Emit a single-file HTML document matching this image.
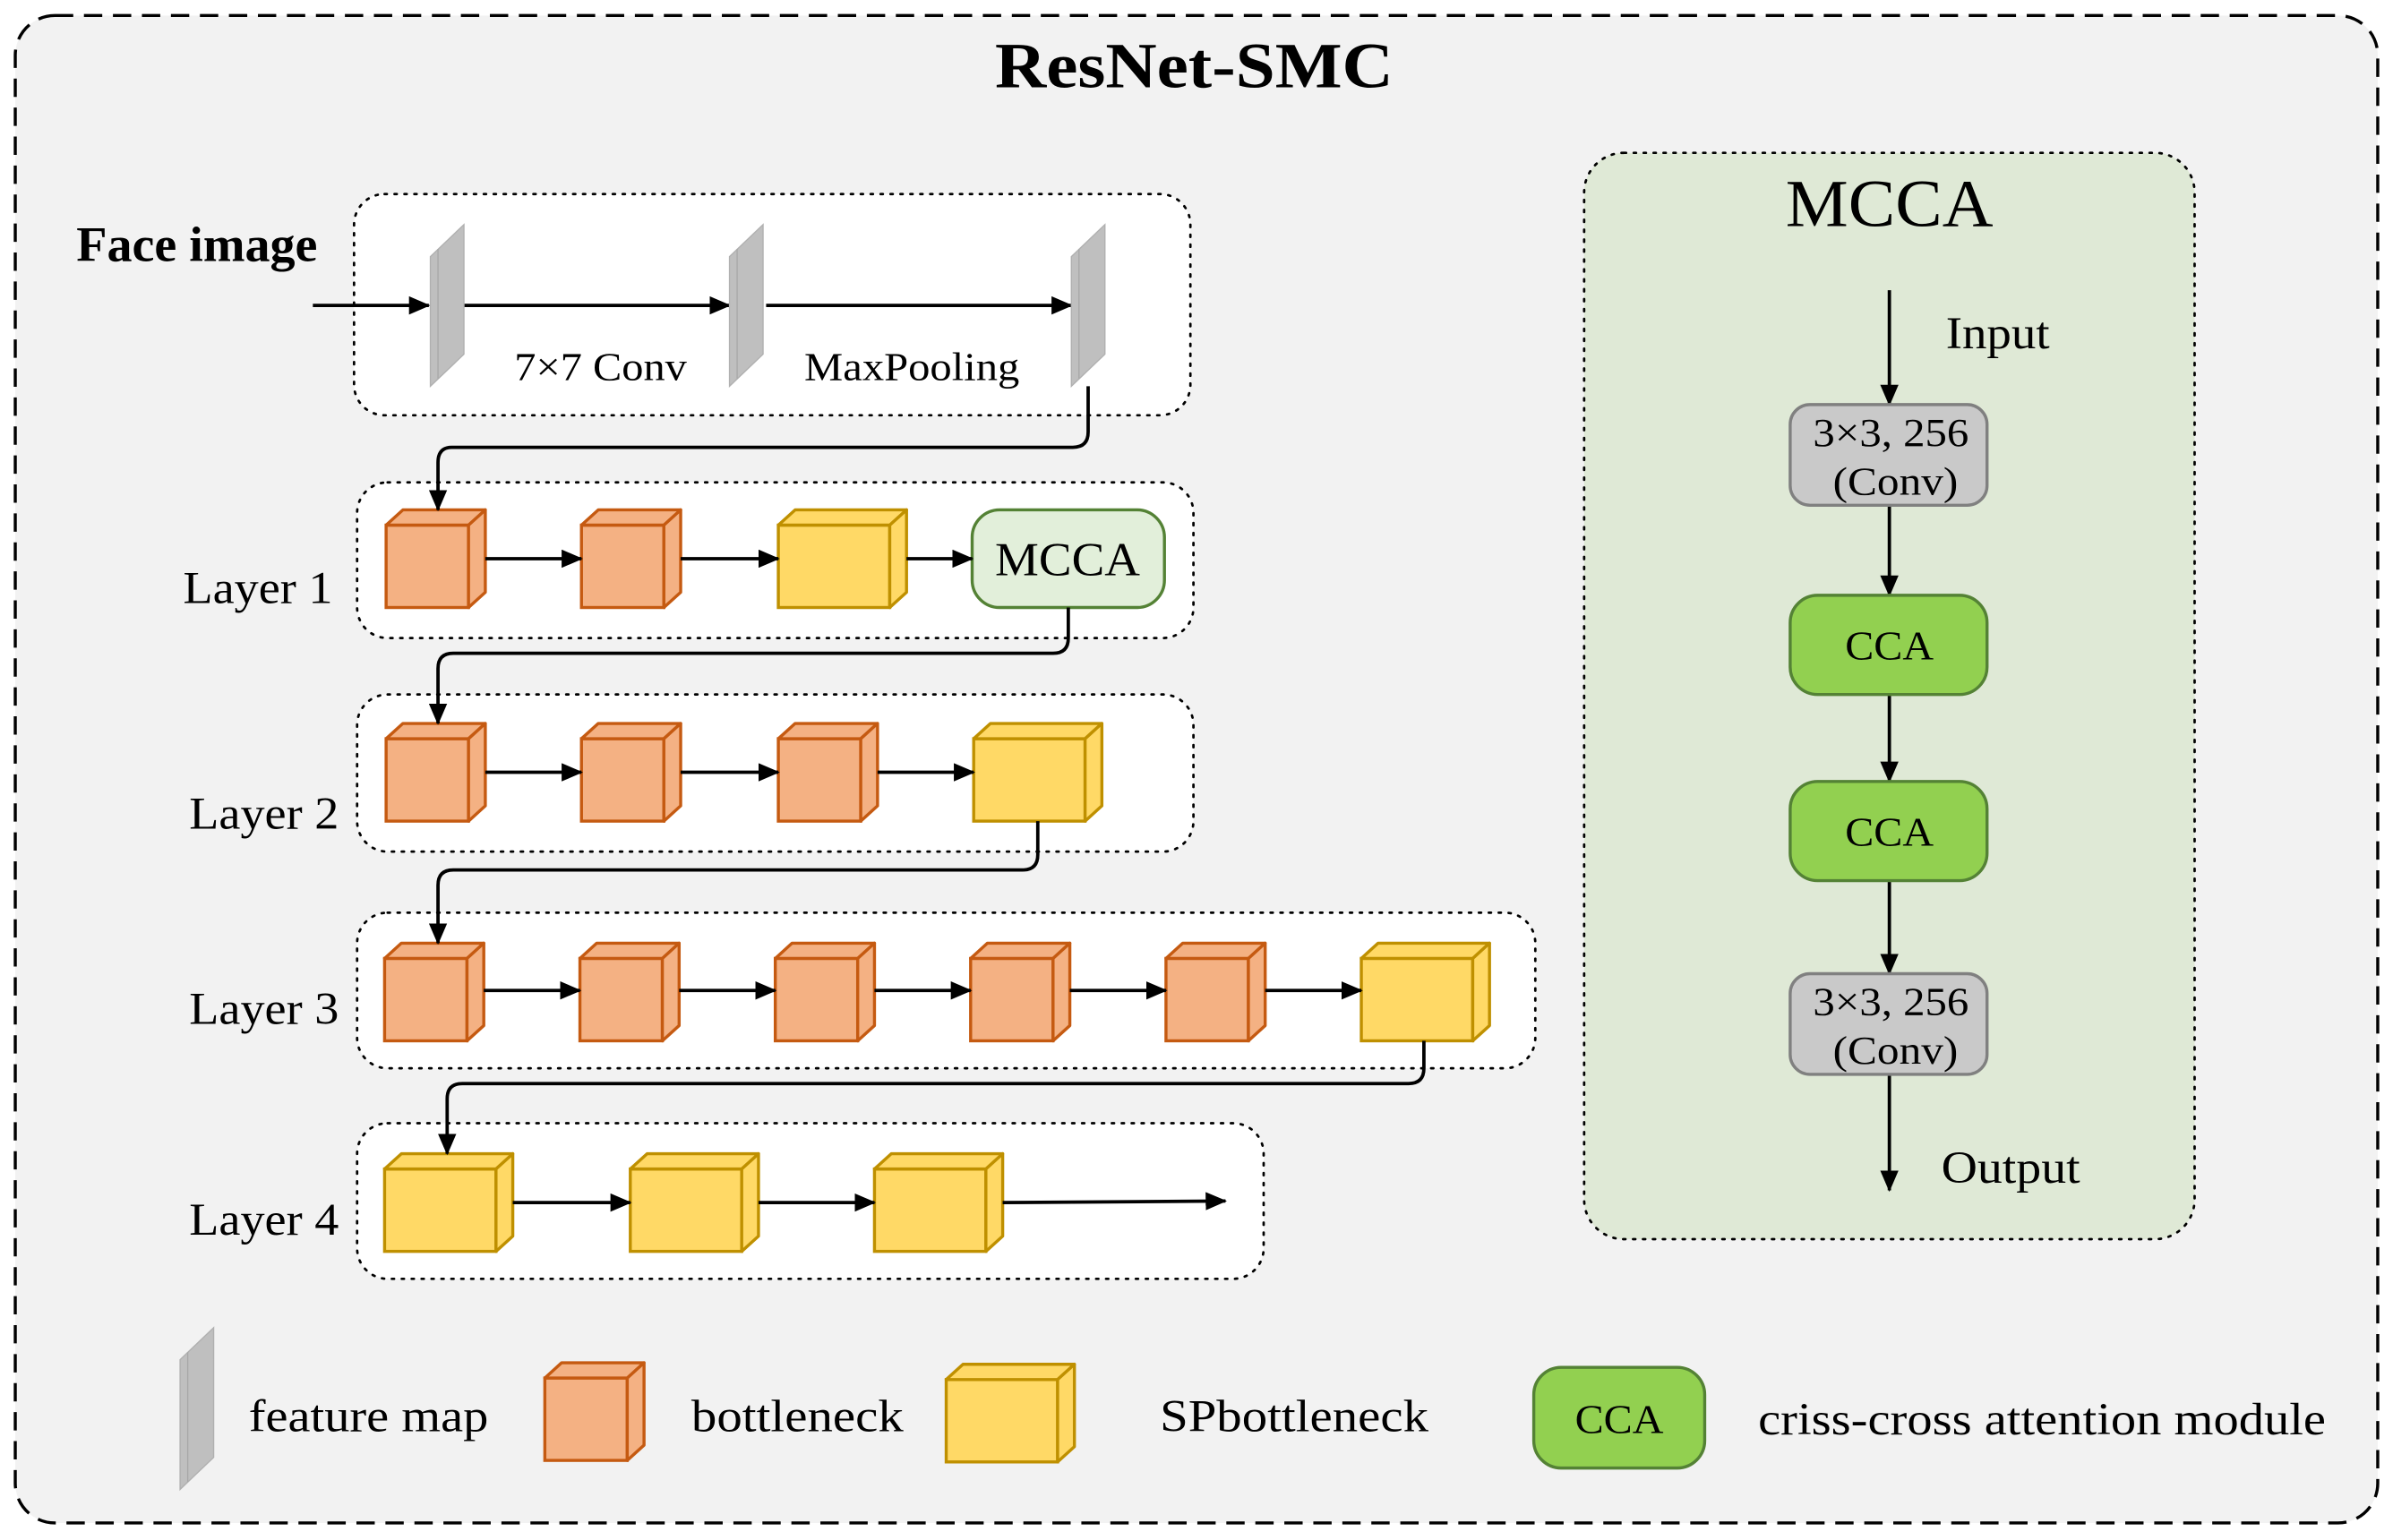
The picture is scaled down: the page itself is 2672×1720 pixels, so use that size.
<!DOCTYPE html>
<html><head><meta charset="utf-8"><style>html,body{margin:0;padding:0;background:#fff}svg{display:block}</style></head>
<body>
<svg xmlns="http://www.w3.org/2000/svg" width="2672" height="1720" viewBox="0 0 1568 1009" font-family="'Liberation Serif', serif">
<defs>
<marker id="ah" markerUnits="userSpaceOnUse" markerWidth="14" markerHeight="12" refX="13" refY="6" orient="auto">
<path d="M0,0 L14,6 L0,12 z" fill="#000"/>
</marker>
<g id="oc">
<rect x="0" y="10" width="54" height="54" fill="#f4b183" stroke="#c55a11" stroke-width="2"/>
<polygon points="0,10 11,0 65,0 54,10" fill="#f4b183" stroke="#c55a11" stroke-width="2" stroke-linejoin="round"/>
<polygon points="54,10 65,0 65,54 54,64" fill="#f4b183" stroke="#c55a11" stroke-width="2" stroke-linejoin="round"/>
</g>
<g id="yc">
<rect x="0" y="10" width="73" height="54" fill="#ffd966" stroke="#bf9000" stroke-width="2"/>
<polygon points="0,10 11,0 84,0 73,10" fill="#ffd966" stroke="#bf9000" stroke-width="2" stroke-linejoin="round"/>
<polygon points="73,10 84,0 84,54 73,64" fill="#ffd966" stroke="#bf9000" stroke-width="2" stroke-linejoin="round"/>
</g>
<g id="fm">
<polygon points="0,21 22,0 22,85 0,106" fill="#bfbfbf" stroke="#b0b0b0" stroke-width="0.8"/>
<line x1="5" y1="16" x2="5" y2="101" stroke="#a8a8a8" stroke-width="0.8"/>
</g>
</defs>

<rect x="0" y="0" width="1568" height="1009" fill="#fff"/>
<rect x="10" y="10" width="1548" height="988" rx="26" fill="#f2f2f2" stroke="#000" stroke-width="2" stroke-dasharray="12,7"/>
<text x="652" y="57" font-size="42" font-weight="bold" textLength="261" lengthAdjust="spacingAndGlyphs">ResNet-SMC</text>

<!-- boxes -->
<rect x="232" y="127" width="548" height="145" rx="20" fill="#fff" stroke="#000" stroke-width="1.6" stroke-dasharray="1.5,5" stroke-linecap="round"/>
<rect x="234" y="316" width="548" height="102" rx="20" fill="#fff" stroke="#000" stroke-width="1.6" stroke-dasharray="1.5,5" stroke-linecap="round"/>
<rect x="234" y="455" width="548" height="103" rx="20" fill="#fff" stroke="#000" stroke-width="1.6" stroke-dasharray="1.5,5" stroke-linecap="round"/>
<rect x="234" y="598" width="772" height="102" rx="20" fill="#fff" stroke="#000" stroke-width="1.6" stroke-dasharray="1.5,5" stroke-linecap="round"/>
<rect x="234" y="736" width="594" height="102" rx="20" fill="#fff" stroke="#000" stroke-width="1.6" stroke-dasharray="1.5,5" stroke-linecap="round"/>

<!-- stem -->
<text x="50" y="171" font-size="32" font-weight="bold" textLength="158" lengthAdjust="spacingAndGlyphs">Face image</text>
<g stroke="#000" stroke-width="2.2" marker-end="url(#ah)">
<line x1="205" y1="200" x2="281" y2="200"/>
<line x1="304" y1="200" x2="478" y2="200"/>
<line x1="502" y1="200" x2="702" y2="200"/>
</g>
<use href="#fm" x="282" y="147"/>
<use href="#fm" x="478" y="147"/>
<use href="#fm" x="702" y="147"/>
<text x="337" y="249" font-size="26" textLength="113" lengthAdjust="spacingAndGlyphs">7×7 Conv</text>
<text x="527" y="249" font-size="26" textLength="141" lengthAdjust="spacingAndGlyphs">MaxPooling</text>

<!-- layer1 -->
<text x="120" y="395" font-size="30" textLength="98" lengthAdjust="spacingAndGlyphs">Layer 1</text>
<use href="#oc" x="253" y="334"/>
<use href="#oc" x="381" y="334"/>
<use href="#yc" x="510" y="334"/>
<rect x="637" y="334" width="126" height="64" rx="18" fill="#e2efda" stroke="#548235" stroke-width="2"/>
<text x="652" y="377" font-size="31" textLength="95" lengthAdjust="spacingAndGlyphs">MCCA</text>
<g stroke="#000" stroke-width="2.2" marker-end="url(#ah)">
<line x1="318" y1="366" x2="381" y2="366"/>
<line x1="446" y1="366" x2="510" y2="366"/>
<line x1="594" y1="366" x2="637" y2="366"/>
</g>

<!-- layer2 -->
<text x="124" y="543" font-size="30" textLength="98" lengthAdjust="spacingAndGlyphs">Layer 2</text>
<use href="#oc" x="253" y="474"/>
<use href="#oc" x="381" y="474"/>
<use href="#oc" x="510" y="474"/>
<use href="#yc" x="638" y="474"/>
<g stroke="#000" stroke-width="2.2" marker-end="url(#ah)">
<line x1="318" y1="506" x2="381" y2="506"/>
<line x1="446" y1="506" x2="510" y2="506"/>
<line x1="575" y1="506" x2="638" y2="506"/>
</g>

<!-- layer3 -->
<text x="124" y="671" font-size="30" textLength="98" lengthAdjust="spacingAndGlyphs">Layer 3</text>
<use href="#oc" x="252" y="618"/>
<use href="#oc" x="380" y="618"/>
<use href="#oc" x="508" y="618"/>
<use href="#oc" x="636" y="618"/>
<use href="#oc" x="764" y="618"/>
<use href="#yc" x="892" y="618"/>
<g stroke="#000" stroke-width="2.2" marker-end="url(#ah)">
<line x1="317" y1="649" x2="380" y2="649"/>
<line x1="445" y1="649" x2="508" y2="649"/>
<line x1="573" y1="649" x2="636" y2="649"/>
<line x1="701" y1="649" x2="764" y2="649"/>
<line x1="829" y1="649" x2="892" y2="649"/>
</g>

<!-- layer4 -->
<text x="124" y="809" font-size="30" textLength="98" lengthAdjust="spacingAndGlyphs">Layer 4</text>
<use href="#yc" x="252" y="756"/>
<use href="#yc" x="413" y="756"/>
<use href="#yc" x="573" y="756"/>
<g stroke="#000" stroke-width="2.2" marker-end="url(#ah)">
<line x1="336" y1="788" x2="413" y2="788"/>
<line x1="497" y1="788" x2="573" y2="788"/>
<line x1="657" y1="788" x2="803" y2="787"/>
</g>

<!-- connectors (drawn on top) -->
<g fill="none" stroke="#000" stroke-width="2.2" marker-end="url(#ah)">
<path d="M713 253 V283 Q713 293 703 293 H296 Q287 293 287 303 V334"/>
<path d="M700 398 V418 Q700 428 690 428 H297 Q287 428 287 438 V474"/>
<path d="M680 538 V560 Q680 570 670 570 H297 Q287 570 287 580 V618"/>
<path d="M933 682 V700 Q933 710 923 710 H303 Q293 710 293 720 V756"/>
</g>

<!-- MCCA panel -->
<rect x="1038" y="100" width="400" height="712" rx="26" fill="#dfe9d6" stroke="#000" stroke-width="1.6" stroke-dasharray="1.5,5" stroke-linecap="round"/>
<text x="1170" y="148" font-size="44" textLength="136" lengthAdjust="spacingAndGlyphs">MCCA</text>
<g stroke="#000" stroke-width="2.2" marker-end="url(#ah)">
<line x1="1238" y1="190" x2="1238" y2="265"/>
<line x1="1238" y1="331" x2="1238" y2="390"/>
<line x1="1238" y1="455" x2="1238" y2="512"/>
<line x1="1238" y1="577" x2="1238" y2="638"/>
<line x1="1238" y1="704" x2="1238" y2="780"/>
</g>
<text x="1275" y="228" font-size="30" textLength="68" lengthAdjust="spacingAndGlyphs">Input</text>
<rect x="1173" y="265" width="129" height="66" rx="13" fill="#c9c9c9" stroke="#808080" stroke-width="2"/>
<text x="1188" y="292" font-size="26" textLength="102" lengthAdjust="spacingAndGlyphs">3×3, 256</text>
<text x="1201" y="324" font-size="26" textLength="82" lengthAdjust="spacingAndGlyphs">(Conv)</text>
<rect x="1173" y="390" width="129" height="65" rx="18" fill="#92d050" stroke="#548235" stroke-width="2"/>
<text x="1209" y="432" font-size="27" textLength="58" lengthAdjust="spacingAndGlyphs">CCA</text>
<rect x="1173" y="512" width="129" height="65" rx="18" fill="#92d050" stroke="#548235" stroke-width="2"/>
<text x="1209" y="554" font-size="27" textLength="58" lengthAdjust="spacingAndGlyphs">CCA</text>
<rect x="1173" y="638" width="129" height="66" rx="13" fill="#c9c9c9" stroke="#808080" stroke-width="2"/>
<text x="1188" y="665" font-size="26" textLength="102" lengthAdjust="spacingAndGlyphs">3×3, 256</text>
<text x="1201" y="697" font-size="26" textLength="82" lengthAdjust="spacingAndGlyphs">(Conv)</text>
<text x="1272" y="775" font-size="30" textLength="91" lengthAdjust="spacingAndGlyphs">Output</text>

<!-- legend -->
<use href="#fm" x="118" y="870"/>
<text x="163" y="938" font-size="30" textLength="157" lengthAdjust="spacingAndGlyphs">feature map</text>
<use href="#oc" x="357" y="893"/>
<text x="453" y="938" font-size="30" textLength="139" lengthAdjust="spacingAndGlyphs">bottleneck</text>
<use href="#yc" x="620" y="894"/>
<text x="760" y="938" font-size="30" textLength="176" lengthAdjust="spacingAndGlyphs">SPbottleneck</text>
<rect x="1005" y="896" width="112" height="66" rx="18" fill="#92d050" stroke="#548235" stroke-width="2"/>
<text x="1032" y="939" font-size="27" textLength="58" lengthAdjust="spacingAndGlyphs">CCA</text>
<text x="1152" y="940" font-size="30" textLength="372" lengthAdjust="spacingAndGlyphs">criss-cross attention module</text>
</svg>
</body></html>
